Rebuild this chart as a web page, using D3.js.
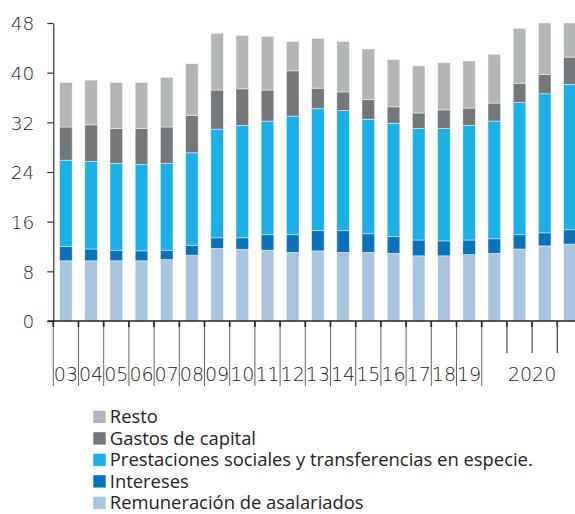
<!DOCTYPE html>
<html>
<head>
	<meta http-equiv="Content-Type" content="text/html;charset=utf-8">
	<title>Gasto público</title>
	<script src="https://cdn.jsdelivr.net/npm/d3@7"></script>
	<style type="text/css">
		body { margin: 0; background: #fff; }
		svg { display: block; }
		.ax text { font-family: "DejaVu Sans", sans-serif; font-weight: 300; fill: #222; }
		.leg text { font-family: "Open Sans", sans-serif; fill: #222; }
	</style>
</head>
<body>
	<svg width="575" height="514"></svg>

	<script type="text/javascript">
		// datos (puntos del PIB)
		var categories = ["03","04","05","06","07","08","09","10","11","12","13","14","15","16","17","18","19",
			"2020-I","2020-II","2020-III","2020-IV"];
		var yearLabels = ["03","04","05","06","07","08","09","10","11","12","13","14","15","16","17","18","19"];
		var lastLabel = "2020";
		var remuneracion = [9.7, 9.7, 9.7, 9.7, 9.9, 10.6, 11.7, 11.55, 11.4, 11.05, 11.3, 11.05, 11.05, 10.9, 10.5, 10.5, 10.7, 10.9, 11.6, 12.1, 12.4];
		var intereses = [2.3, 1.9, 1.7, 1.6, 1.5, 1.6, 1.7, 1.85, 2.5, 2.85, 3.25, 3.5, 3.0, 2.7, 2.55, 2.4, 2.35, 2.35, 2.3, 2.1, 2.3];
		var prestaciones = [13.9, 14.1, 14.0, 13.9, 14.0, 14.9, 17.5, 18.1, 18.3, 19.1, 19.65, 19.35, 18.45, 18.25, 17.95, 18.1, 18.45, 18.95, 21.3, 22.4, 23.4];
		var gastosCapital = [5.35, 5.9, 5.6, 5.8, 5.85, 6.0, 6.3, 5.9, 5.0, 7.3, 3.3, 3.0, 3.15, 2.65, 2.5, 3.0, 2.8, 2.9, 3.1, 3.1, 4.4];
		var resto = [7.15, 7.2, 7.4, 7.4, 8.0, 8.35, 9.1, 8.6, 8.65, 4.7, 8.0, 8.1, 8.15, 7.6, 7.6, 7.6, 7.6, 7.85, 8.85, 8.3, 5.5];
		var yTicks = [0, 8, 16, 24, 32, 40, 48];

		var keys = ["rem", "int", "pre", "gas", "res"];
		var names = {
			rem: "Remuneración de asalariados",
			int: "Intereses",
			pre: "Prestaciones sociales y transferencias en especie.",
			gas: "Gastos de capital",
			res: "Resto"
		};
		var colors = { rem: "#a9c4df", int: "#0a72bb", pre: "#1cb0e6", gas: "#75787b", res: "#b3b6b7" };

		var rows = categories.map(function (c, i) {
			return { cat: c, rem: remuneracion[i], int: intereses[i], pre: prestaciones[i], gas: gastosCapital[i], res: resto[i] };
		});
		var series = d3.stack().keys(keys)(rows);

		var svg = d3.select("svg");
		var x = d3.scaleBand().domain(categories).range([53.3, 582.5]).paddingInner(0.5).paddingOuter(0.25);
		var y = d3.scaleLinear().domain([0, 48]).range([321, 23]);
		var step = x.step();
		function left(c) { return x(c) - step * 0.25; }

		// barras
		svg.append("g").selectAll("g")
			.data(series)
			.enter().append("g")
				.attr("fill", function (s) { return colors[s.key]; })
			.selectAll("rect")
			.data(function (s) { return s; })
			.enter().append("rect")
				.attr("x", function (d) { return x(d.data.cat); })
				.attr("width", x.bandwidth())
				.attr("y", function (d) { return y(d[1]); })
				.attr("height", function (d) { return y(d[0]) - y(d[1]); })
				.attr("stroke", "rgba(255,255,255,0.55)")
				.attr("stroke-width", 0.8);

		// eje y
		var yAxis = svg.append("g").attr("class", "ax")
			.attr("transform", "translate(53.3,0)")
			.call(d3.axisLeft(y).tickValues(yTicks).tickSize(6).tickSizeOuter(0).tickPadding(13));
		yAxis.select(".domain").attr("stroke", "#333").attr("stroke-width", 1.2);
		yAxis.selectAll(".tick line").attr("stroke", "#333").attr("stroke-width", 1.2);
		yAxis.selectAll(".tick text").attr("font-size", 18.5).attr("dy", "0.36em");

		// eje x
		var xg = svg.append("g").attr("class", "ax");
		xg.append("line")
			.attr("x1", 47.5).attr("x2", 575).attr("y1", y(0)).attr("y2", y(0))
			.attr("stroke", "#222").attr("stroke-width", 1.3);

		var longEdges = categories.slice(0, 18);
		xg.selectAll("line.sep")
			.data(longEdges)
			.enter().append("line")
				.attr("class", "sep")
				.attr("x1", left).attr("x2", left)
				.attr("y1", y(0)).attr("y2", 386)
				.attr("stroke", "#666").attr("stroke-width", 1);
		xg.selectAll("line.dark")
			.data(categories)
			.enter().append("line")
				.attr("class", "dark")
				.attr("x1", left).attr("x2", left)
				.attr("y1", y(0)).attr("y2", y(0) + 6)
				.attr("stroke", "#222").attr("stroke-width", 1.6);
		xg.selectAll("line.short")
			.data(categories.slice(18))
			.enter().append("line")
				.attr("class", "short")
				.attr("x1", left).attr("x2", left)
				.attr("y1", y(0)).attr("y2", 353)
				.attr("stroke", "#444").attr("stroke-width", 1.2);

		xg.selectAll("text.yr")
			.data(yearLabels)
			.enter().append("text")
				.attr("class", "yr")
				.attr("x", function (d) { return x(d) + x.bandwidth() / 2; })
				.attr("y", 381)
				.attr("text-anchor", "middle")
				.attr("font-size", 19)
				.text(function (d) { return d; });
		var q = categories.slice(17);
		xg.append("text")
			.attr("x", (x(q[0]) + x(q[q.length - 1]) + x.bandwidth()) / 2)
			.attr("y", 381)
			.attr("text-anchor", "middle")
			.attr("font-size", 19)
			.text(lastLabel);

		// leyenda
		var legOrder = ["res", "gas", "pre", "int", "rem"];
		var leg = svg.append("g").attr("class", "leg")
			.selectAll("g")
			.data(legOrder)
			.enter().append("g")
				.attr("transform", function (d, i) { return "translate(93.3," + (423 + i * 21.5) + ")"; });
		leg.append("rect")
			.attr("x", 0).attr("y", -12.3).attr("width", 12.4).attr("height", 12.4)
			.attr("fill", function (d) { return colors[d]; });
		leg.append("text")
			.attr("x", 16.5).attr("y", 0)
			.attr("font-size", 18.4)
			.text(function (d) { return names[d]; });
	</script>
</body>
</html>
